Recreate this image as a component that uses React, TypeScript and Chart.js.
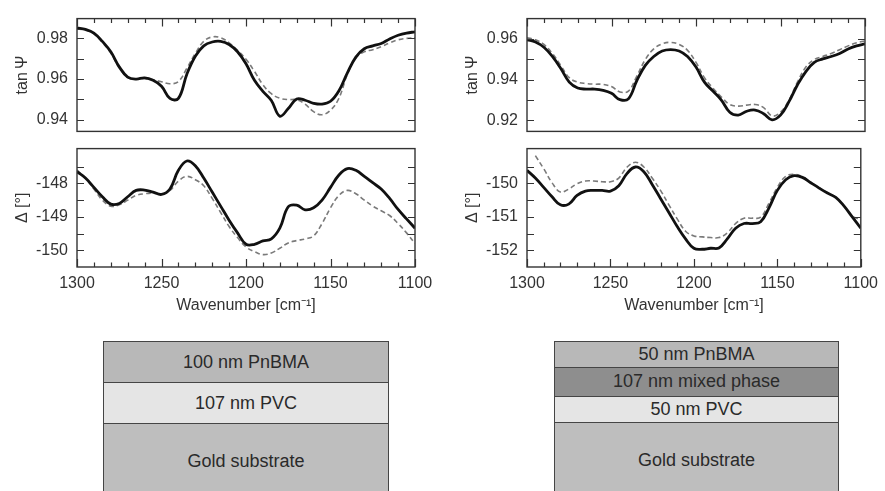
import React, { useEffect, useRef } from "react";
import { Chart, registerables } from "chart.js";

Chart.register(...registerables);

// ---------- data ----------
const WAVENUMBERS = [
  1300, 1295, 1290, 1285, 1280, 1275, 1270, 1265, 1260, 1255, 1250, 1245, 1240, 1235, 1230, 1225, 1220, 1215, 1210, 1205,
  1200, 1195, 1190, 1185, 1180, 1175, 1170, 1165, 1160, 1155, 1150, 1145, 1140, 1135, 1130, 1125, 1120, 1115, 1110, 1105, 1100,
];

// left: 100 nm PnBMA / 107 nm PVC
const TANPSI_L_MEASURED = [
  0.9851, 0.9844, 0.9826, 0.9785, 0.9734, 0.966, 0.961, 0.96, 0.9606, 0.9594, 0.9565, 0.9505, 0.9505, 0.9624, 0.9712, 0.9763,
  0.9782, 0.9785, 0.977, 0.9734, 0.9675, 0.9594, 0.954, 0.9495, 0.9418, 0.9455, 0.9502, 0.9496, 0.9481, 0.9477, 0.9491, 0.9543,
  0.9631, 0.9708, 0.9749, 0.9763, 0.9775, 0.9797, 0.9815, 0.9826, 0.9832,
];
const TANPSI_L_MODEL = [
  0.9848, 0.984, 0.9822, 0.978, 0.9728, 0.9655, 0.9608, 0.96, 0.9603, 0.9596, 0.9587, 0.9577, 0.9588, 0.9653, 0.9726, 0.9785,
  0.9807, 0.9803, 0.9778, 0.9741, 0.9697, 0.9638, 0.9572, 0.9528, 0.9506, 0.9499, 0.9499, 0.9477, 0.944, 0.9425, 0.9447, 0.9506,
  0.9624, 0.9704, 0.9734, 0.9744, 0.9759, 0.9778, 0.9793, 0.98, 0.9803,
];
const DELTA_L_MEASURED = [
  -147.65, -147.84, -148.12, -148.4, -148.62, -148.6, -148.4, -148.21, -148.2, -148.26, -148.33, -148.17, -147.61, -147.33,
  -147.47, -147.84, -148.26, -148.68, -149.1, -149.48, -149.82, -149.82, -149.72, -149.66, -149.34, -148.7, -148.65, -148.79,
  -148.73, -148.5, -148.12, -147.75, -147.56, -147.61, -147.79, -147.98, -148.17, -148.45, -148.78, -149.06, -149.34,
];
const DELTA_L_MODEL = [
  -147.6, -147.85, -148.17, -148.5, -148.68, -148.64, -148.5, -148.36, -148.31, -148.29, -148.31, -148.21, -147.93, -147.79,
  -147.89, -148.07, -148.45, -148.87, -149.29, -149.62, -149.9, -150.04, -150.13, -150.08, -149.94, -149.78, -149.71, -149.66,
  -149.57, -149.2, -148.73, -148.36, -148.21, -148.31, -148.5, -148.68, -148.82, -148.96, -149.2, -149.48, -149.8,
];

// right: 50 nm PnBMA / 107 nm mixed phase / 50 nm PVC
const TANPSI_R_MEASURED = [
  0.9596, 0.9585, 0.9559, 0.9514, 0.9455, 0.9388, 0.9359, 0.9354, 0.9354, 0.9348, 0.9333, 0.9302, 0.9306, 0.9396, 0.947,
  0.9514, 0.9541, 0.9548, 0.9541, 0.9514, 0.9462, 0.9388, 0.9344, 0.93, 0.924, 0.9226, 0.9245, 0.9251, 0.9233, 0.9203, 0.9226,
  0.9292, 0.9374, 0.944, 0.9485, 0.9502, 0.9514, 0.9529, 0.9551, 0.9566, 0.9576,
];
const TANPSI_R_MODEL = [
  0.9606, 0.9596, 0.9573, 0.9529, 0.947, 0.941, 0.9388, 0.9381, 0.9378, 0.9377, 0.9366, 0.934, 0.9344, 0.9418, 0.9499, 0.9551,
  0.9576, 0.9583, 0.9573, 0.9544, 0.9485, 0.941, 0.9359, 0.9315, 0.9278, 0.927, 0.9275, 0.9278, 0.9263, 0.9222, 0.924, 0.93,
  0.9388, 0.9462, 0.9499, 0.9514, 0.9529, 0.9547, 0.9566, 0.9581, 0.9591,
];
const DELTA_R_MEASURED = [
  -149.61, -149.84, -150.12, -150.4, -150.64, -150.62, -150.36, -150.23, -150.21, -150.21, -150.23, -150.07, -149.7, -149.51,
  -149.65, -150.03, -150.45, -150.87, -151.29, -151.66, -151.94, -151.97, -151.94, -151.93, -151.66, -151.34, -151.2, -151.2,
  -151.15, -150.73, -150.21, -149.89, -149.77, -149.82, -149.98, -150.14, -150.29, -150.42, -150.68, -151.01, -151.34,
];
const DELTA_R_MODEL = [
  null, -149.17, -149.56, -149.98, -150.26, -150.17, -150.01, -149.93, -149.93, -149.95, -149.95, -149.84, -149.51, -149.37,
  -149.51, -149.84, -150.21, -150.64, -151.06, -151.43, -151.57, -151.6, -151.62, -151.62, -151.48, -151.2, -151.04, -151.04,
  -151.01, -150.59, -150.12, -149.79, -149.73, -149.8, -149.97, -150.13, -150.28, -150.42, -150.68, -150.98, -151.08,
];

// ---------- ticks ----------
const X_LABEL_TICKS = [1300, 1250, 1200, 1150, 1100];
const X_MINOR_TICKS = [
  1300, 1290, 1280, 1270, 1260, 1250, 1240, 1230, 1220, 1210, 1200, 1190, 1180, 1170, 1160, 1150, 1140, 1130, 1120, 1110, 1100,
];
const TANPSI_L_TICKS = [0.94, 0.96, 0.98];
const TANPSI_L_MINOR = [0.94, 0.95, 0.96, 0.97, 0.98];
const DELTA_L_TICKS = [-150, -149, -148];
const DELTA_L_MINOR = [-150, -149.5, -149, -148.5, -148, -147.5];
const TANPSI_R_TICKS = [0.92, 0.94, 0.96];
const TANPSI_R_MINOR = [0.92, 0.93, 0.94, 0.95, 0.96];
const DELTA_R_TICKS = [-152, -151, -150];
const DELTA_R_MINOR = [-152, -151.5, -151, -150.5, -150, -149.5];

const FONT = '"Liberation Sans", Arial, Helvetica, sans-serif';
const TEXT = "#333";

const framePlugin = {
  id: "frame",
  afterDraw(chart: any) {
    const o = chart.options.plugins.frame;
    if (!o) return;
    const { ctx, chartArea } = chart;
    const { left, right, top, bottom } = chartArea;
    const x = chart.scales.x;
    const y = chart.scales.y;
    ctx.save();
    ctx.strokeStyle = "#333";
    ctx.lineWidth = 1.4;
    ctx.strokeRect(left, top, right - left, bottom - top);
    ctx.lineWidth = 1.2;
    ctx.beginPath();
    for (const v of X_MINOR_TICKS) {
      const px = Math.round(x.getPixelForValue(v)) + 0.5;
      const len = v % 50 === 0 ? 8 : 4.5;
      if (o.xEdge === "top") {
        ctx.moveTo(px, top);
        ctx.lineTo(px, top + len);
      } else {
        ctx.moveTo(px, bottom);
        ctx.lineTo(px, bottom - len);
      }
    }
    for (const v of o.yMinor) {
      const py = Math.round(y.getPixelForValue(v)) + 0.5;
      ctx.moveTo(left, py);
      ctx.lineTo(left + 7, py);
      ctx.moveTo(right, py);
      ctx.lineTo(right - 7, py);
    }
    ctx.stroke();
    ctx.translate(left - 54, (top + bottom) / 2);
    ctx.rotate(-Math.PI / 2);
    ctx.textAlign = "center";
    ctx.textBaseline = "middle";
    ctx.font = `16px ${FONT}`;
    ctx.fillStyle = TEXT;
    ctx.fillText(o.title, 0, 0);
    ctx.restore();
  },
};

type PanelProps = {
  left: number;
  top: number;
  width: number;
  height: number;
  padTop: number;
  padRight: number;
  padBottom: number;
  yWidth: number;
  bottomAxis: boolean;
  measured: (number | null)[];
  model: (number | null)[];
  yMin: number;
  yMax: number;
  yTicks: number[];
  yMinor: number[];
  decimals: number;
  title: string;
};

function Panel(p: PanelProps) {
  const ref = useRef<HTMLCanvasElement | null>(null);
  useEffect(() => {
    if (!ref.current) return;
    const toPts = (arr: (number | null)[]) => WAVENUMBERS.map((w, i) => ({ x: w, y: arr[i] }));
    const chart = new Chart(ref.current, {
      type: "line",
      data: {
        datasets: [
          {
            data: toPts(p.measured) as any,
            borderColor: "#111",
            borderWidth: 2.8,
            pointRadius: 0,
            tension: 0.4,
            fill: false,
          },
          {
            data: toPts(p.model) as any,
            borderColor: "#7a7a7a",
            borderWidth: 1.6,
            borderDash: [5, 3],
            pointRadius: 0,
            tension: 0.4,
            fill: false,
          },
        ],
      },
      options: {
        animation: false,
        responsive: false,
        maintainAspectRatio: false,
        devicePixelRatio: 1,
        events: [],
        layout: { padding: { top: p.padTop, right: p.padRight, bottom: p.padBottom, left: 0 } },
        plugins: {
          legend: { display: false },
          tooltip: { enabled: false },
          frame: { xEdge: p.bottomAxis ? "bottom" : "top", yMinor: p.yMinor, title: p.title },
        } as any,
        scales: {
          x: {
            type: "linear",
            min: 1100,
            max: 1300,
            reverse: true,
            display: p.bottomAxis,
            grid: { display: false, drawTicks: false },
            border: { display: false },
            ticks: {
              padding: 7,
              color: TEXT,
              font: { family: FONT, size: 16 },
              callback: (v: any) => String(v),
            },
            afterBuildTicks: (s: any) => {
              s.ticks = X_LABEL_TICKS.map((v) => ({ value: v }));
            },
            afterFit: (s: any) => {
              s.height = p.bottomAxis ? 53 : 0;
            },
            title: {
              display: p.bottomAxis,
              text: "Wavenumber [cm\u207B\u00B9]",
              color: TEXT,
              font: { family: FONT, size: 16 },
              padding: { top: 0, bottom: 5 },
            },
          },
          y: {
            type: "linear",
            min: p.yMin,
            max: p.yMax,
            grid: { display: false, drawTicks: false },
            border: { display: false },
            ticks: {
              padding: 9,
              color: TEXT,
              font: { family: FONT, size: 16 },
              callback: (v: any) => Number(v).toFixed(p.decimals),
            },
            afterBuildTicks: (s: any) => {
              s.ticks = p.yTicks.map((v) => ({ value: v }));
            },
            afterFit: (s: any) => {
              s.width = p.yWidth;
            },
          },
        },
      },
      plugins: [framePlugin],
    });
    return () => chart.destroy();
  }, []);
  return (
    <canvas
      ref={ref}
      width={p.width}
      height={p.height}
      style={{ position: "absolute", left: p.left, top: p.top, width: p.width, height: p.height }}
    />
  );
}

type Layer = { label: string; height: number; color: string };

const LEFT_LAYERS: Layer[] = [
  { label: "100 nm PnBMA", height: 40, color: "#b8b8b8" },
  { label: "107 nm PVC", height: 41, color: "#e5e5e5" },
  { label: "Gold substrate", height: 76, color: "#bebebe" },
];
const RIGHT_LAYERS: Layer[] = [
  { label: "50 nm PnBMA", height: 25, color: "#b8b8b8" },
  { label: "107 nm mixed phase", height: 28.5, color: "#8e8e8e" },
  { label: "50 nm PVC", height: 26.5, color: "#e5e5e5" },
  { label: "Gold substrate", height: 76, color: "#bebebe" },
];

function Stack({ left, top, width, layers }: { left: number; top: number; width: number; layers: Layer[] }) {
  return (
    <div
      style={{
        position: "absolute",
        left,
        top,
        width,
        borderLeft: "1.5px solid #454545",
        borderRight: "1.5px solid #454545",
        borderTop: "1.5px solid #454545",
        boxSizing: "border-box",
      }}
    >
      {layers.map((l, i) => (
        <div
          key={i}
          style={{
            height: l.height,
            background: l.color,
            borderTop: i > 0 ? "1.5px solid #454545" : "none",
            boxSizing: "border-box",
            display: "flex",
            alignItems: "center",
            justifyContent: "center",
            fontFamily: FONT,
            fontSize: 18,
            color: "#2a2a2a",
            whiteSpace: "nowrap",
          }}
        >
          {l.label}
        </div>
      ))}
    </div>
  );
}

export default function App() {
  return (
    <div
      style={{
        position: "absolute",
        left: 0,
        top: 0,
        width: 885,
        height: 491,
        overflow: "hidden",
        background: "#fff",
      }}
    >
      <Panel
        left={0}
        top={0}
        width={440}
        height={150}
        padTop={14}
        padRight={25}
        padBottom={10}
        yWidth={77}
        bottomAxis={false}
        measured={TANPSI_L_MEASURED}
        model={TANPSI_L_MODEL}
        yMin={0.9343}
        yMax={0.9897}
        yTicks={TANPSI_L_TICKS}
        yMinor={TANPSI_L_MINOR}
        decimals={2}
        title={"tan\u2009\u03A8"}
      />
      <Panel
        left={0}
        top={130}
        width={440}
        height={190}
        padTop={10}
        padRight={25}
        padBottom={0}
        yWidth={77}
        bottomAxis={true}
        measured={DELTA_L_MEASURED}
        model={DELTA_L_MODEL}
        yMin={-150.5}
        yMax={-146.96}
        yTicks={DELTA_L_TICKS}
        yMinor={DELTA_L_MINOR}
        decimals={0}
        title={"\u0394 [\u00B0]"}
      />
      <Panel
        left={440}
        top={0}
        width={445}
        height={150}
        padTop={14}
        padRight={20}
        padBottom={10}
        yWidth={87}
        bottomAxis={false}
        measured={TANPSI_R_MEASURED}
        model={TANPSI_R_MODEL}
        yMin={0.9146}
        yMax={0.97}
        yTicks={TANPSI_R_TICKS}
        yMinor={TANPSI_R_MINOR}
        decimals={2}
        title={"tan\u2009\u03A8"}
      />
      <Panel
        left={440}
        top={130}
        width={445}
        height={190}
        padTop={10}
        padRight={20}
        padBottom={0}
        yWidth={87}
        bottomAxis={true}
        measured={DELTA_R_MEASURED}
        model={DELTA_R_MODEL}
        yMin={-152.5}
        yMax={-148.96}
        yTicks={DELTA_R_TICKS}
        yMinor={DELTA_R_MINOR}
        decimals={0}
        title={"\u0394 [\u00B0]"}
      />
      <Stack left={103} top={341} width={286} layers={LEFT_LAYERS} />
      <Stack left={554} top={341} width={285} layers={RIGHT_LAYERS} />
    </div>
  );
}
